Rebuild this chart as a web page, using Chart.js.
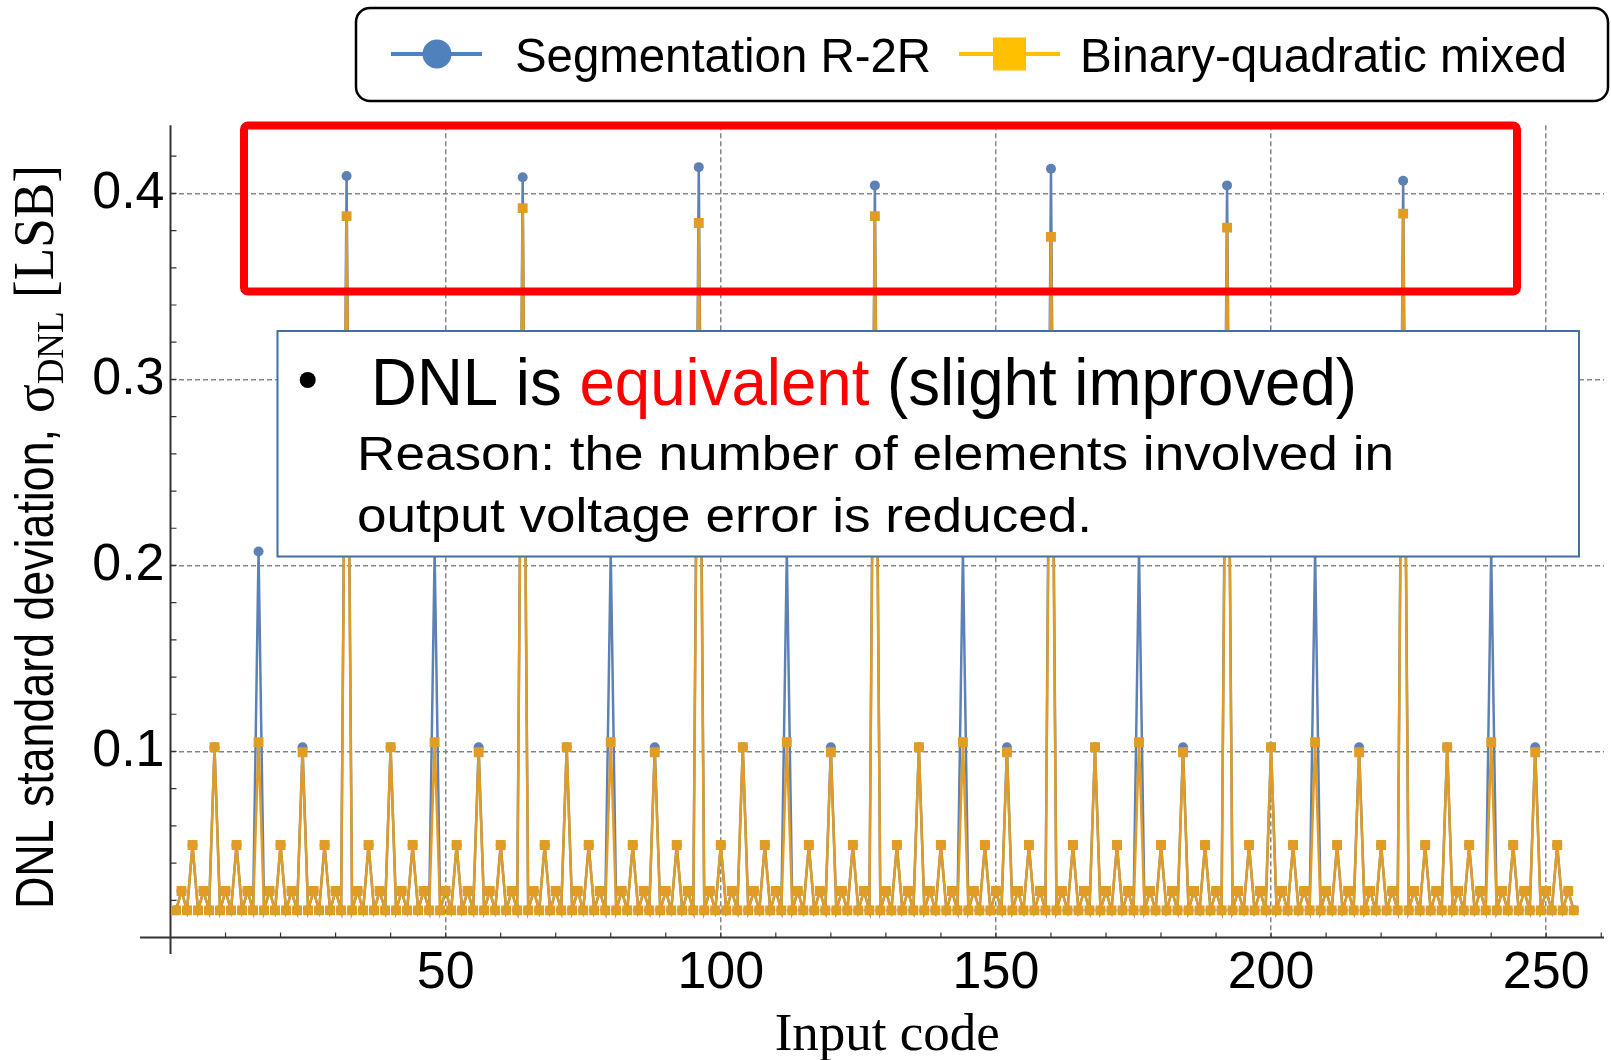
<!DOCTYPE html>
<html>
<head>
<meta charset="utf-8">
<script src="https://cdn.jsdelivr.net/npm/chart.js@4.4.1/dist/chart.umd.min.js"></script>
<style>
  html, body { margin: 0; padding: 0; background: #fff; }
  canvas { display: block; }
</style>
</head>
<body>
<canvas id="dnl" width="1611" height="1060"></canvas>
<script>
// input codes 1..255 (x categories)
const codes = Array.from({ length: 255 }, (_, i) => i + 1);
const xTickValues = [50, 100, 150, 200, 250];
const yTickValues = [0.1, 0.2, 0.3, 0.4];

// Segmentation R-2R, sigma DNL per code (rows of 16 codes)
const segR2R = [
  0.0146, 0.025, 0.0146, 0.0497, 0.0146, 0.025, 0.0146, 0.1023, 0.0146, 0.025, 0.0146, 0.0497, 0.0146, 0.025, 0.0146, 0.2075,
  0.0146, 0.025, 0.0146, 0.0497, 0.0146, 0.025, 0.0146, 0.1023, 0.0146, 0.025, 0.0146, 0.0497, 0.0146, 0.025, 0.0146, 0.4093,
  0.0146, 0.025, 0.0146, 0.0497, 0.0146, 0.025, 0.0146, 0.1023, 0.0146, 0.025, 0.0146, 0.0497, 0.0146, 0.025, 0.0146, 0.2075,
  0.0146, 0.025, 0.0146, 0.0497, 0.0146, 0.025, 0.0146, 0.1023, 0.0146, 0.025, 0.0146, 0.0497, 0.0146, 0.025, 0.0146, 0.4087,
  0.0146, 0.025, 0.0146, 0.0497, 0.0146, 0.025, 0.0146, 0.1023, 0.0146, 0.025, 0.0146, 0.0497, 0.0146, 0.025, 0.0146, 0.2075,
  0.0146, 0.025, 0.0146, 0.0497, 0.0146, 0.025, 0.0146, 0.1023, 0.0146, 0.025, 0.0146, 0.0497, 0.0146, 0.025, 0.0146, 0.4141,
  0.0146, 0.025, 0.0146, 0.0497, 0.0146, 0.025, 0.0146, 0.1023, 0.0146, 0.025, 0.0146, 0.0497, 0.0146, 0.025, 0.0146, 0.2075,
  0.0146, 0.025, 0.0146, 0.0497, 0.0146, 0.025, 0.0146, 0.1023, 0.0146, 0.025, 0.0146, 0.0497, 0.0146, 0.025, 0.0146, 0.4043,
  0.0146, 0.025, 0.0146, 0.0497, 0.0146, 0.025, 0.0146, 0.1023, 0.0146, 0.025, 0.0146, 0.0497, 0.0146, 0.025, 0.0146, 0.2075,
  0.0146, 0.025, 0.0146, 0.0497, 0.0146, 0.025, 0.0146, 0.1023, 0.0146, 0.025, 0.0146, 0.0497, 0.0146, 0.025, 0.0146, 0.4132,
  0.0146, 0.025, 0.0146, 0.0497, 0.0146, 0.025, 0.0146, 0.1023, 0.0146, 0.025, 0.0146, 0.0497, 0.0146, 0.025, 0.0146, 0.2075,
  0.0146, 0.025, 0.0146, 0.0497, 0.0146, 0.025, 0.0146, 0.1023, 0.0146, 0.025, 0.0146, 0.0497, 0.0146, 0.025, 0.0146, 0.4043,
  0.0146, 0.025, 0.0146, 0.0497, 0.0146, 0.025, 0.0146, 0.1023, 0.0146, 0.025, 0.0146, 0.0497, 0.0146, 0.025, 0.0146, 0.2075,
  0.0146, 0.025, 0.0146, 0.0497, 0.0146, 0.025, 0.0146, 0.1023, 0.0146, 0.025, 0.0146, 0.0497, 0.0146, 0.025, 0.0146, 0.4068,
  0.0146, 0.025, 0.0146, 0.0497, 0.0146, 0.025, 0.0146, 0.1023, 0.0146, 0.025, 0.0146, 0.0497, 0.0146, 0.025, 0.0146, 0.2075,
  0.0146, 0.025, 0.0146, 0.0497, 0.0146, 0.025, 0.0146, 0.1023, 0.0146, 0.025, 0.0146, 0.0497, 0.0146, 0.025, 0.0146
];

// Binary-quadratic mixed
const binQuad = [
  0.0146, 0.025, 0.0146, 0.0497, 0.0146, 0.025, 0.0146, 0.1023, 0.0146, 0.025, 0.0146, 0.0497, 0.0146, 0.025, 0.0146, 0.105,
  0.0146, 0.025, 0.0146, 0.0497, 0.0146, 0.025, 0.0146, 0.0996, 0.0146, 0.025, 0.0146, 0.0497, 0.0146, 0.025, 0.0146, 0.3878,
  0.0146, 0.025, 0.0146, 0.0497, 0.0146, 0.025, 0.0146, 0.1023, 0.0146, 0.025, 0.0146, 0.0497, 0.0146, 0.025, 0.0146, 0.105,
  0.0146, 0.025, 0.0146, 0.0497, 0.0146, 0.025, 0.0146, 0.0996, 0.0146, 0.025, 0.0146, 0.0497, 0.0146, 0.025, 0.0146, 0.3921,
  0.0146, 0.025, 0.0146, 0.0497, 0.0146, 0.025, 0.0146, 0.1023, 0.0146, 0.025, 0.0146, 0.0497, 0.0146, 0.025, 0.0146, 0.105,
  0.0146, 0.025, 0.0146, 0.0497, 0.0146, 0.025, 0.0146, 0.0996, 0.0146, 0.025, 0.0146, 0.0497, 0.0146, 0.025, 0.0146, 0.3841,
  0.0146, 0.025, 0.0146, 0.0497, 0.0146, 0.025, 0.0146, 0.1023, 0.0146, 0.025, 0.0146, 0.0497, 0.0146, 0.025, 0.0146, 0.105,
  0.0146, 0.025, 0.0146, 0.0497, 0.0146, 0.025, 0.0146, 0.0996, 0.0146, 0.025, 0.0146, 0.0497, 0.0146, 0.025, 0.0146, 0.3878,
  0.0146, 0.025, 0.0146, 0.0497, 0.0146, 0.025, 0.0146, 0.1023, 0.0146, 0.025, 0.0146, 0.0497, 0.0146, 0.025, 0.0146, 0.105,
  0.0146, 0.025, 0.0146, 0.0497, 0.0146, 0.025, 0.0146, 0.0996, 0.0146, 0.025, 0.0146, 0.0497, 0.0146, 0.025, 0.0146, 0.3766,
  0.0146, 0.025, 0.0146, 0.0497, 0.0146, 0.025, 0.0146, 0.1023, 0.0146, 0.025, 0.0146, 0.0497, 0.0146, 0.025, 0.0146, 0.105,
  0.0146, 0.025, 0.0146, 0.0497, 0.0146, 0.025, 0.0146, 0.0996, 0.0146, 0.025, 0.0146, 0.0497, 0.0146, 0.025, 0.0146, 0.3816,
  0.0146, 0.025, 0.0146, 0.0497, 0.0146, 0.025, 0.0146, 0.1023, 0.0146, 0.025, 0.0146, 0.0497, 0.0146, 0.025, 0.0146, 0.105,
  0.0146, 0.025, 0.0146, 0.0497, 0.0146, 0.025, 0.0146, 0.0996, 0.0146, 0.025, 0.0146, 0.0497, 0.0146, 0.025, 0.0146, 0.3891,
  0.0146, 0.025, 0.0146, 0.0497, 0.0146, 0.025, 0.0146, 0.1023, 0.0146, 0.025, 0.0146, 0.0497, 0.0146, 0.025, 0.0146, 0.105,
  0.0146, 0.025, 0.0146, 0.0497, 0.0146, 0.025, 0.0146, 0.0996, 0.0146, 0.025, 0.0146, 0.0497, 0.0146, 0.025, 0.0146
];

const SANS = '"Liberation Sans", Arial, sans-serif';
const SERIF = '"Liberation Serif", "Times New Roman", serif';

// draw a string squeezed/stretched to a given width
function fitText(ctx, str, x, y, font, width) {
  ctx.font = font;
  const w = ctx.measureText(str).width;
  ctx.save();
  ctx.translate(x, y);
  ctx.scale(width / w, 1);
  ctx.fillText(str, 0, 0);
  ctx.restore();
}

// axis lines crossing each other and the minor tick marks
const axesPlugin = {
  id: 'axes',
  beforeDatasetsDraw(chart) {
    const { ctx, chartArea: a, scales: { x, y } } = chart;
    const x0 = x.getPixelForValue(0), y0 = y.getPixelForValue(0);
    ctx.save();
    ctx.strokeStyle = '#333';
    ctx.lineWidth = 2;
    ctx.beginPath();
    ctx.moveTo(140, y0); ctx.lineTo(a.right, y0);
    ctx.moveTo(x0, a.top); ctx.lineTo(x0, 954);
    ctx.stroke();
    ctx.lineWidth = 1.2;
    ctx.beginPath();
    for (let v = 0.02; v < 0.435; v += 0.02) {
      const p = y.getPixelForValue(v);
      ctx.moveTo(x0, p); ctx.lineTo(x0 + 6, p);
    }
    for (let v = 10; v <= 260; v += 10) {
      const p = x.getPixelForValue(v);
      ctx.moveTo(p, y0); ctx.lineTo(p, y0 - 5);
    }
    ctx.stroke();
    ctx.restore();
  }
};

// titles, legend, highlight box and the comment box
const overlayPlugin = {
  id: 'overlay',
  afterDraw(chart) {
    const { ctx, chartArea: a } = chart;
    ctx.save();
    ctx.fillStyle = '#000';
    ctx.textBaseline = 'alphabetic';

    // x title
    ctx.font = '53px ' + SERIF;
    ctx.textAlign = 'center';
    ctx.fillText('Input code', (a.left + a.right) / 2, 1050);
    ctx.textAlign = 'left';

    // y title, rotated
    ctx.save();
    ctx.translate(53, 909);
    ctx.rotate(-Math.PI / 2);
    fitText(ctx, 'DNL standard deviation,', 0, 0, '53px ' + SANS, 480);
    ctx.font = '57px ' + SERIF;
    const wSig = ctx.measureText('σ').width;
    ctx.font = '38px ' + SERIF;
    const wSub = ctx.measureText('DNL').width;
    ctx.font = '57px ' + SERIF;
    const wLsb = ctx.measureText(' [LSB]').width;
    const k = 248 / (wSig + wSub + wLsb);
    ctx.translate(496, 0);
    ctx.scale(k, 1);
    ctx.fillText('σ', 0, 0);
    ctx.font = '38px ' + SERIF;
    ctx.fillText('DNL', wSig, 10);
    ctx.font = '57px ' + SERIF;
    ctx.fillText(' [LSB]', wSig + wSub, 0);
    ctx.restore();

    // legend box
    ctx.lineWidth = 2.5;
    ctx.strokeStyle = '#000';
    ctx.beginPath();
    ctx.roundRect(356, 8, 1252, 93, 14);
    ctx.fillStyle = '#fff';
    ctx.fill();
    ctx.stroke();
    ctx.lineWidth = 4;
    ctx.strokeStyle = '#4F81BD';
    ctx.beginPath(); ctx.moveTo(391, 54); ctx.lineTo(482, 54); ctx.stroke();
    ctx.fillStyle = '#4F81BD';
    ctx.beginPath(); ctx.arc(437, 54, 14.5, 0, Math.PI * 2); ctx.fill();
    ctx.strokeStyle = '#FFC000';
    ctx.beginPath(); ctx.moveTo(959, 54); ctx.lineTo(1060, 54); ctx.stroke();
    ctx.fillStyle = '#FFC000';
    ctx.fillRect(993, 37.5, 33, 33);
    ctx.fillStyle = '#000';
    fitText(ctx, 'Segmentation R-2R', 515, 72, '49px ' + SANS, 416);
    fitText(ctx, 'Binary-quadratic mixed', 1080, 72, '49px ' + SANS, 487);

    // red highlight around the peaks
    ctx.lineWidth = 8;
    ctx.strokeStyle = '#FF0000';
    ctx.beginPath();
    ctx.roundRect(244, 125.5, 1273, 166, 4);
    ctx.stroke();

    // comment box
    ctx.fillStyle = '#fff';
    ctx.fillRect(277.5, 331, 1301.5, 225.5);
    ctx.lineWidth = 2;
    ctx.strokeStyle = '#41719C';
    ctx.strokeRect(277.5, 331, 1301.5, 225.5);
    ctx.fillStyle = '#000';
    ctx.beginPath(); ctx.arc(307.7, 380, 8, 0, Math.PI * 2); ctx.fill();

    const l1 = ['DNL is ', 'equivalent', ' (slight improved)'];
    ctx.font = '66px ' + SANS;
    const w1 = ctx.measureText(l1.join('')).width;
    ctx.save();
    ctx.translate(371, 405);
    ctx.scale(986 / w1, 1);
    let cx = 0;
    l1.forEach((s, i) => {
      ctx.fillStyle = i === 1 ? '#FF0000' : '#000';
      ctx.fillText(s, cx, 0);
      cx += ctx.measureText(s).width;
    });
    ctx.restore();
    ctx.fillStyle = '#000';
    fitText(ctx, 'Reason: the number of elements involved in', 357, 470, '49px ' + SANS, 1037);
    fitText(ctx, 'output voltage error is reduced.', 357, 531.5, '49px ' + SANS, 735);
    ctx.restore();
  }
};

const tickFont = { family: SANS, size: 52 };

new Chart(document.getElementById('dnl'), {
  type: 'line',
  data: {
    datasets: [
      {
        label: 'Binary-quadratic mixed',
        data: codes.map((c, i) => ({ x: c, y: binQuad[i] })),
        borderColor: '#E19C24',
        backgroundColor: '#E19C24',
        pointBackgroundColor: '#E19C24',
        pointStyle: 'rect',
        pointRadius: 7,
        pointBorderWidth: 0,
        borderWidth: 2.5,
        tension: 0,
        order: 0
      },
      {
        label: 'Segmentation R-2R',
        data: codes.map((c, i) => ({ x: c, y: segR2R[i] })),
        borderColor: '#5E81B5',
        backgroundColor: '#5E81B5',
        pointBackgroundColor: '#5E81B5',
        pointStyle: 'circle',
        pointRadius: 5,
        pointBorderWidth: 0,
        borderWidth: 2.5,
        tension: 0,
        order: 1
      }
    ]
  },
  options: {
    responsive: false,
    animation: false,
    devicePixelRatio: 1,
    layout: { padding: { top: 125.3, left: 0, right: 0, bottom: 0 } },
    plugins: {
      legend: { display: false },
      tooltip: { enabled: false }
    },
    scales: {
      x: {
        type: 'linear',
        min: 0,
        max: 260.5,
        afterBuildTicks: s => { s.ticks = xTickValues.map(v => ({ value: v })); },
        afterFit: s => { s.height = 122.5; },
        grid: { color: '#858585', lineWidth: 1.5, drawTicks: false, borderDash: [5, 3] },
        border: { display: false, dash: [5, 3] },
        ticks: { font: tickFont, color: '#000', padding: 5, maxRotation: 0, autoSkip: false }
      },
      y: {
        min: 0,
        max: 0.4366,
        afterBuildTicks: s => { s.ticks = yTickValues.map(v => ({ value: v })); },
        afterFit: s => { s.width = 170.5; },
        grid: { color: '#858585', lineWidth: 1.5, drawTicks: false, borderDash: [5, 3] },
        border: { display: false, dash: [5, 3] },
        ticks: { font: tickFont, color: '#000', padding: 6, callback: v => v.toFixed(1) }
      }
    }
  },
  plugins: [axesPlugin, overlayPlugin]
});
</script>
</body>
</html>
